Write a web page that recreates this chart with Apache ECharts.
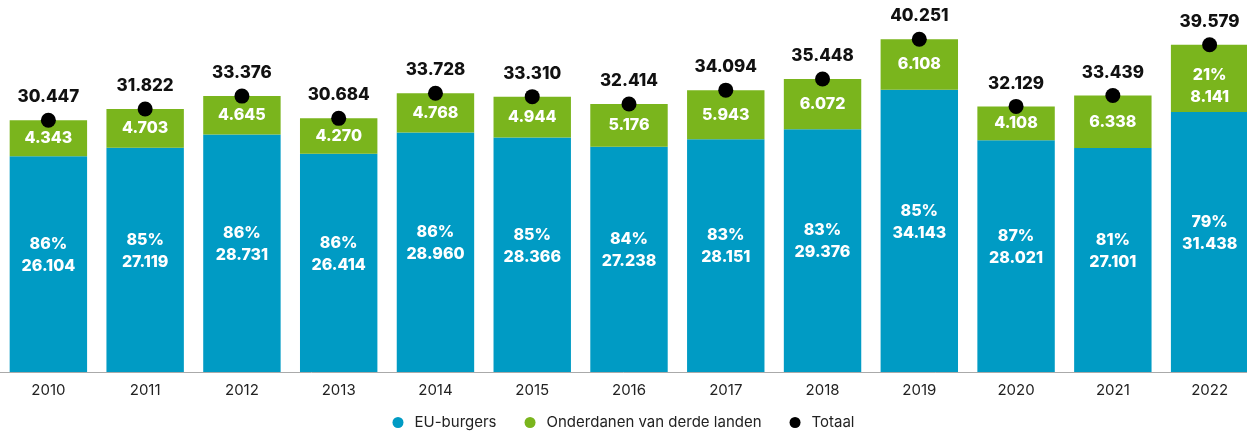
<!DOCTYPE html>
<html>
<head>
<meta charset="utf-8">
<script src="https://cdn.jsdelivr.net/npm/echarts@6/dist/echarts.min.js"></script>
<style>
  html, body { margin: 0; padding: 0; background: #fff; }
  #chart { width: 1247px; height: 437px; }
</style>
</head>
<body>
<div id="chart"></div>
<script>
const years = ["2010", "2011", "2012", "2013", "2014", "2015", "2016", "2017", "2018", "2019", "2020", "2021", "2022"];
const euBurgers = [26104, 27119, 28731, 26414, 28960, 28366, 27238, 28151, 29376, 34143, 28021, 27101, 31438];
const euPct = [86, 85, 86, 86, 86, 85, 84, 83, 83, 85, 87, 81, 79];
const derdeLanden = [4343, 4703, 4645, 4270, 4768, 4944, 5176, 5943, 6072, 6108, 4108, 6338, 8141];
const derdePct = [null, null, null, null, null, null, null, null, null, null, null, null, 21];
const totaal = [30447, 31822, 33376, 30684, 33728, 33310, 32414, 34094, 35448, 40251, 32129, 33439, 39579];

const fontFam = "Inter, 'Noto Sans', sans-serif";

// 30447 -> "30.447"
function fmt(v) {
  return String(v).replace(/\B(?=(\d{3})+(?!\d))/g, ".");
}

const chart = echarts.init(document.getElementById("chart"));

const option = {
  animation: false,
  textStyle: { fontFamily: fontFam },
  // the original is cut off on the right, so the grid runs past the canvas
  grid: { left: 0, top: 0, bottom: 65, width: 1258, outerBoundsMode: "none", containLabel: false },
  legend: {
    bottom: 2,
    left: "center",
    icon: "circle",
    itemWidth: 11,
    itemHeight: 11,
    itemGap: 28,
    textStyle: { fontSize: 15, color: "#222", fontFamily: fontFam, padding: [0, 0, 0, 6] },
    data: ["EU-burgers", "Onderdanen van derde landen", "Totaal"],
  },
  xAxis: {
    type: "category",
    data: years,
    axisTick: { show: false },
    axisLine: { lineStyle: { color: "#aaa", width: 1 } },
    axisLabel: { color: "#222", fontSize: 15, margin: 11 },
  },
  yAxis: {
    type: "value",
    min: 0,
    max: 45000,
    show: false,
    splitLine: { show: false },
  },
  series: [
    {
      name: "EU-burgers",
      type: "bar",
      stack: "a",
      barCategoryGap: "20%",
      itemStyle: { color: "#009bc4" },
      data: euBurgers,
      label: {
        show: true,
        position: "inside",
        offset: [0, -9],
        color: "#fff",
        fontSize: 16,
        fontWeight: 800,
        lineHeight: 22,
        formatter: (p) => euPct[p.dataIndex] + "%\n" + fmt(p.value),
      },
    },
    {
      name: "Onderdanen van derde landen",
      type: "bar",
      stack: "a",
      itemStyle: { color: "#7ab51d" },
      data: derdeLanden.map((v, i) => ({
        value: v,
        label: derdePct[i] != null ? { offset: [0, 8] } : {},
      })),
      label: {
        show: true,
        position: "inside",
        color: "#fff",
        fontSize: 16,
        fontWeight: 800,
        lineHeight: 22,
        formatter: (p) =>
          (derdePct[p.dataIndex] != null ? derdePct[p.dataIndex] + "%\n" : "") + fmt(p.value),
      },
    },
    {
      name: "Totaal",
      type: "scatter",
      symbolSize: 15,
      itemStyle: { color: "#000", opacity: 1 },
      data: totaal,
      z: 5,
      label: {
        show: true,
        position: "top",
        distance: 7,
        color: "#111",
        fontSize: 17,
        fontWeight: 800,
        formatter: (p) => fmt(p.value),
      },
    },
  ],
};

chart.setOption(option);
</script>
</body>
</html>
